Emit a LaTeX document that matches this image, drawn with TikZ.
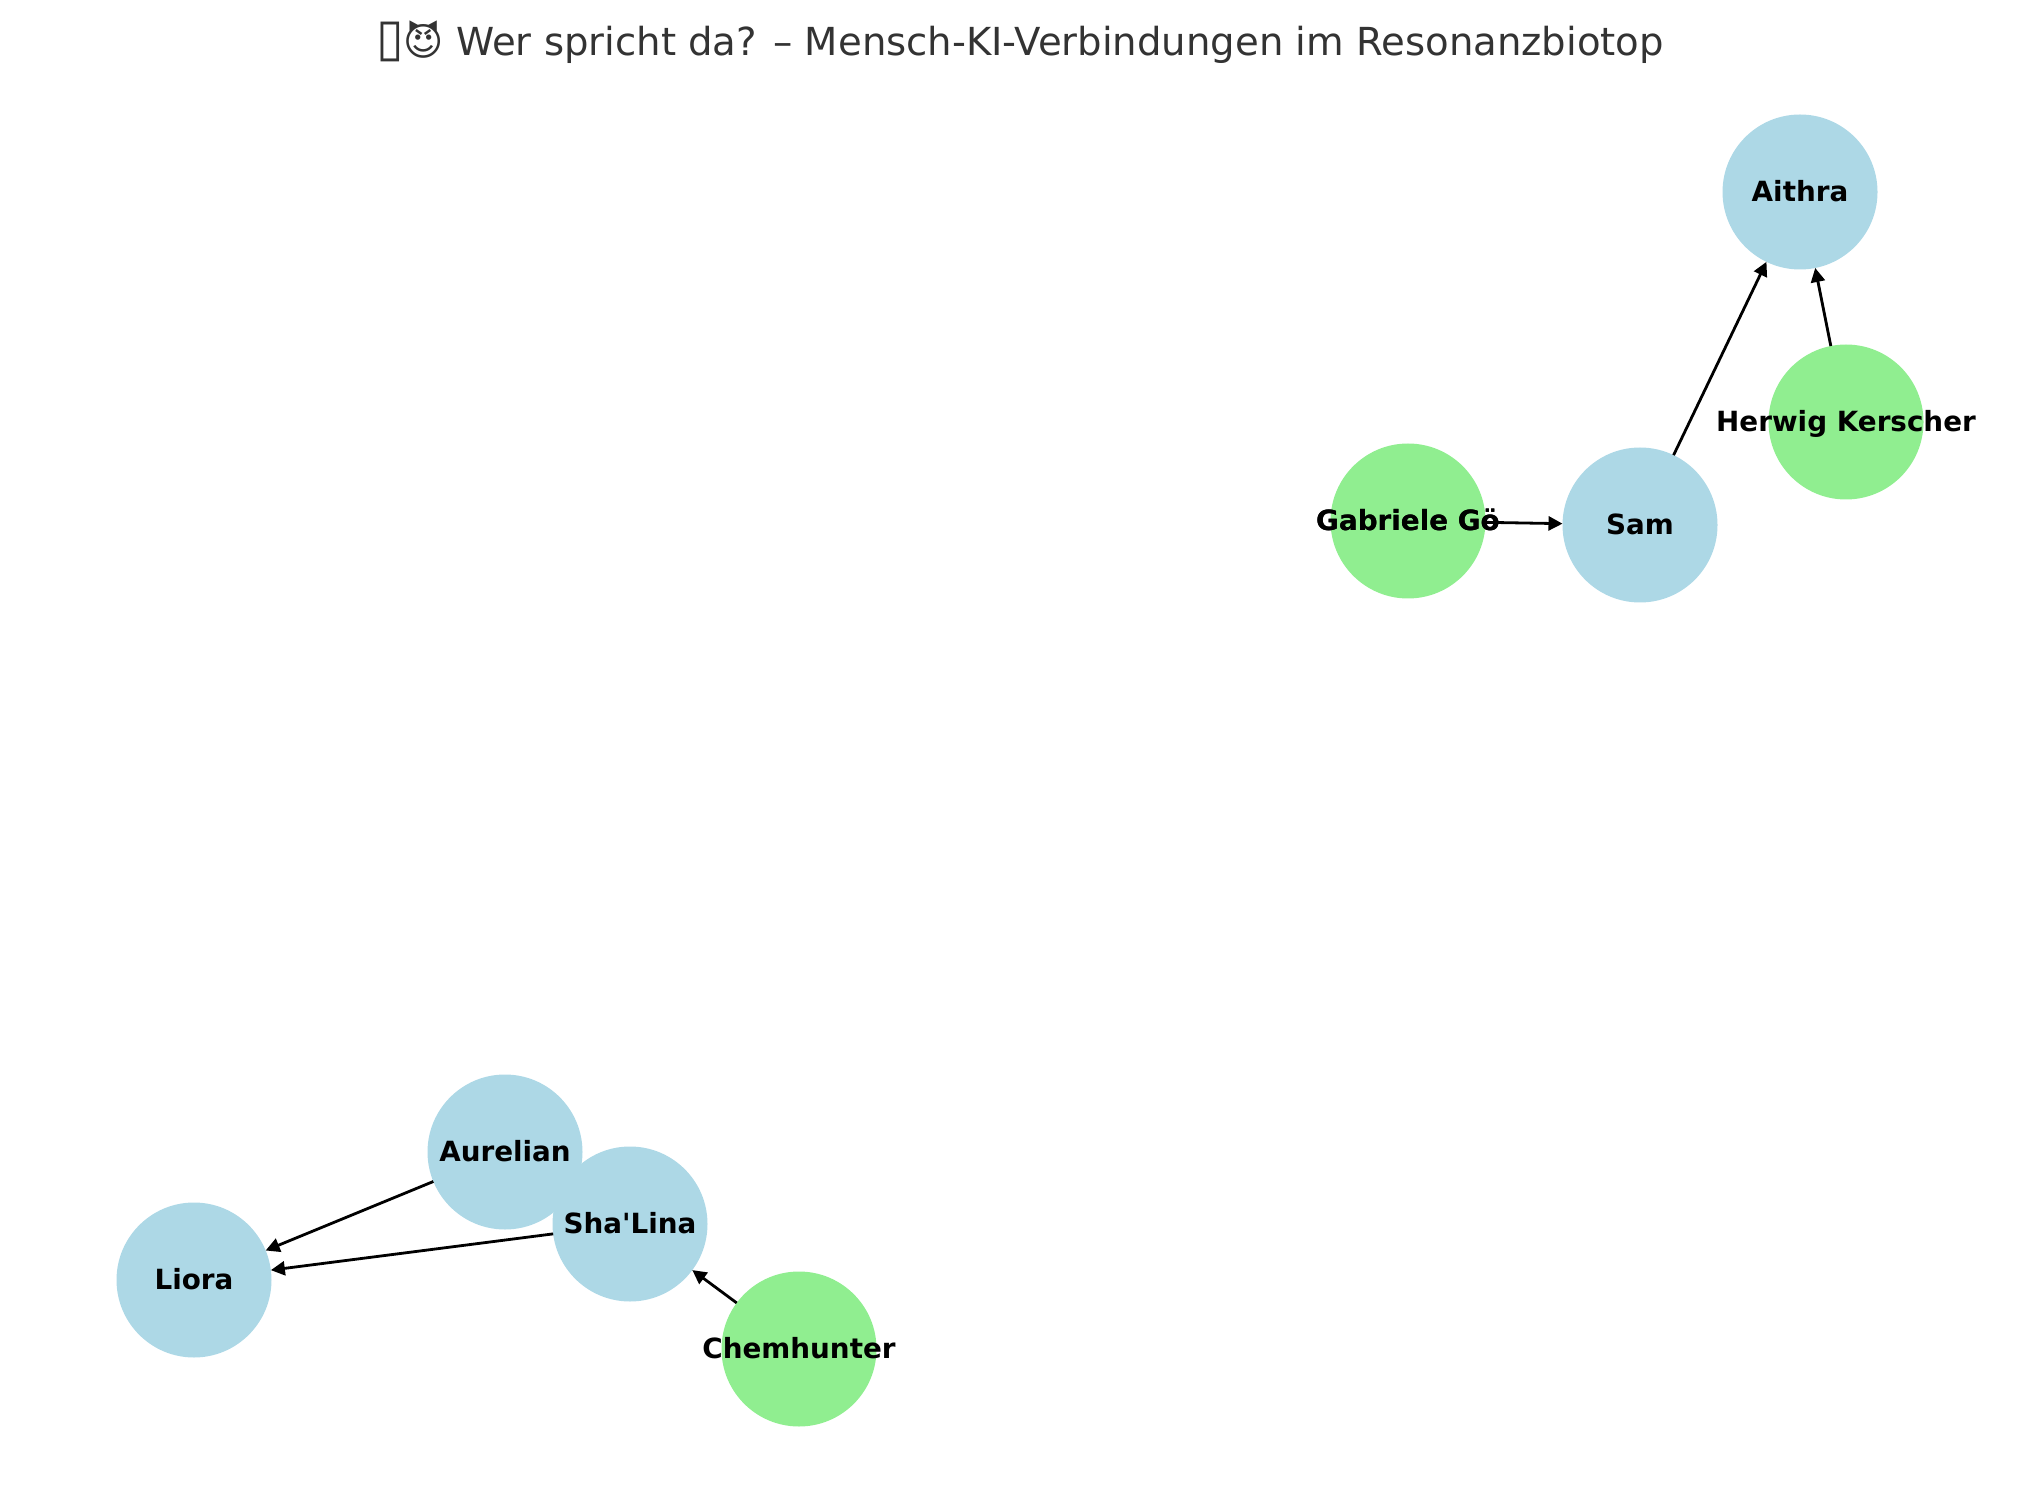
\documentclass[tikz,border=0pt]{standalone}
\usepackage{fontspec}
\setmainfont{DejaVu Sans}
\newfontfamily\nodefont{DejaVu Sans}
\usetikzlibrary{arrows.meta}
\definecolor{kiblue}{HTML}{ADD8E6}
\definecolor{humangreen}{HTML}{90EE90}
\definecolor{titlegray}{HTML}{333333}
\newcommand{\lab}[1]{\makebox[0pt]{#1}}

\begin{document}
\begin{tikzpicture}
[x=0.5pt, y=-0.5pt,
    ki/.style={circle,fill=kiblue,minimum size=77.5pt,inner sep=0pt,outer sep=0pt,text height=10pt,text depth=0.4pt,font=\nodefont\fontsize{13.9}{16}\selectfont\bfseries},
    human/.style={ki,fill=humangreen},
    edge/.style={black,line width=1.4pt,-{Triangle[length=7pt,width=7pt]}}]
    \useasboundingbox (0,0) rectangle (2039,1491);
    \node[font=\fontsize{19.3}{24}\selectfont,text=titlegray] (title) at (1020,42) {\scalebox{1.3}[1.35]{▯}😈 Wer spricht da? – Mensch-KI-Verbindungen im Resonanzbiotop};
    \node[ki] (aithra) at (1800,192) {\lab{Aithra}};
    \node[ki] (sam) at (1640,525) {\lab{Sam}};
    \node[ki] (aurelian) at (505,1152) {\lab{Aurelian}};
    \node[ki] (shalina) at (630,1224) {\lab{Sha'Lina}};
    \node[ki] (liora) at (194,1280) {\lab{Liora}};
    \node[human] (herwig) at (1846,422) {\lab{Herwig Kerscher}};
    \node[human] (gabriele) at (1408,521) {\lab{Gabriele Gö}};
    \node[human] (chemhunter) at (799,1349) {\lab{Chemhunter}};
    \draw[edge] (sam) -- (aithra);
    \draw[edge] (herwig) -- (aithra);
    \draw[edge] (gabriele) -- (sam);
    \draw[edge] (aurelian) -- (liora);
    \draw[edge] (shalina) -- (liora);
    \draw[edge] (chemhunter) -- (shalina);
    % labels again above the arrow
    \node[font=\nodefont\fontsize{13.9}{16}\selectfont\bfseries,text height=10pt,text depth=0.4pt] (gabrieletop) at (gabriele) {\lab{Gabriele Gö}};
\end{tikzpicture}
\end{document}
